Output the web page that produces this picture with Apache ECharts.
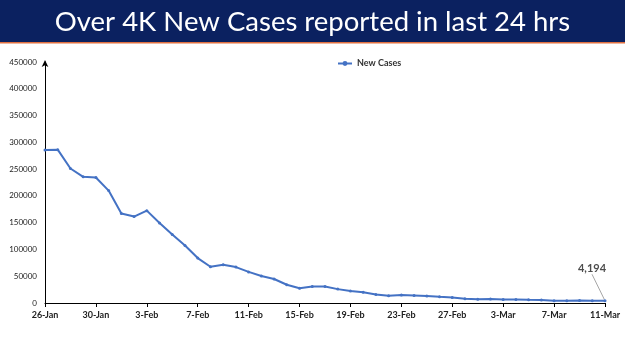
<!DOCTYPE html>
<html lang="en">
<head>
<meta charset="utf-8">
<title>New Cases</title>
<script src="https://cdn.jsdelivr.net/npm/echarts@6/dist/echarts.min.js"></script>
<style>
  html, body { margin: 0; padding: 0; background: #fff; }
  #main { width: 625px; height: 351px; }
</style>
</head>
<body>
<div id="main"></div>
<script>
// dates, one per day
var dates = [
  '26-Jan', '27-Jan', '28-Jan', '29-Jan', '30-Jan', '31-Jan',
  '1-Feb', '2-Feb', '3-Feb', '4-Feb', '5-Feb', '6-Feb', '7-Feb', '8-Feb', '9-Feb', '10-Feb',
  '11-Feb', '12-Feb', '13-Feb', '14-Feb', '15-Feb', '16-Feb', '17-Feb', '18-Feb', '19-Feb', '20-Feb',
  '21-Feb', '22-Feb', '23-Feb', '24-Feb', '25-Feb', '26-Feb', '27-Feb', '28-Feb',
  '1-Mar', '2-Mar', '3-Mar', '4-Mar', '5-Mar', '6-Mar', '7-Mar', '8-Mar', '9-Mar', '10-Mar', '11-Mar'
];
// new cases per day
var newCases = [
  285914, 286384, 251209, 235532, 234281, 209918,
  167059, 161386, 172433, 149394, 127952, 107474, 83876, 67597, 71365, 67084,
  58077, 50407, 44877, 34113, 27409, 30615, 30757, 25920, 22270, 19968,
  16051, 13405, 15102, 14148, 13166, 11499, 10273, 8013,
  6915, 7554, 6561, 6396, 5921, 5476, 4362, 3993, 4575, 4184, 4194
];
var titleText = 'Over 4K New Cases reported in last 24 hrs';

var chart = echarts.init(document.getElementById('main'));

// only the last point gets a label
var seriesData = newCases.map(function (v, i) {
  if (i === newCases.length - 1) {
    return { value: v, label: { show: true } };
  }
  return v;
});

var option = {
  backgroundColor: '#fff',
  animation: false,
  graphic: [
    { type: 'rect', left: 0, top: 0, shape: { width: 625, height: 42 }, style: { fill: '#0B2160' }, z: 0 },
    { type: 'rect', left: 0, top: 42, shape: { width: 625, height: 1.5 }, style: { fill: '#E07040' }, z: 0 }
  ],
  title: {
    text: titleText,
    left: 'center',
    top: 3,
    textStyle: { color: '#fff', fontFamily: 'Lato', fontWeight: 'normal', fontSize: 27.5 }
  },
  legend: {
    data: ['New Cases'],
    left: 332,
    top: 54,
    itemWidth: 14,
    itemHeight: 6,
    itemGap: 2,
    textStyle: { fontFamily: 'Lato', fontSize: 9, fontWeight: 'bold', color: '#333' }
  },
  grid: { left: 45, right: 20, top: 62, bottom: 48 },
  xAxis: {
    type: 'category',
    data: dates,
    boundaryGap: false,
    axisLine: { lineStyle: { color: '#000', width: 1 } },
    axisTick: { interval: 3, length: 4, lineStyle: { color: '#000' } },
    axisLabel: {
      interval: 3,
      margin: 8,
      fontFamily: 'Lato',
      fontSize: 9,
      fontWeight: 'bold',
      color: '#222'
    },
    splitLine: { show: false }
  },
  yAxis: {
    type: 'value',
    min: 0,
    max: 450000,
    interval: 50000,
    axisLine: { show: true, symbol: ['none', 'arrow'], symbolSize: [5, 7], symbolOffset: [0, 2], lineStyle: { color: '#000', width: 1 } },
    axisTick: { show: false },
    axisLabel: { margin: 8, fontFamily: 'Lato', fontSize: 8, color: '#222', formatter: function (v) { return String(v); } },
    splitLine: { show: false }
  },
  series: [{
    name: 'New Cases',
    type: 'line',
    data: seriesData,
    symbol: 'circle',
    symbolSize: 3,
    lineStyle: { color: '#4472C4', width: 2 },
    itemStyle: { color: '#4472C4' },
    label: {
      show: false,
      position: 'top',
      formatter: function (p) { return p.value.toLocaleString('en-US'); },
      fontFamily: 'Lato',
      fontSize: 11,
      fontWeight: 'bold',
      color: '#4D4D4D'
    },
    labelLayout: { dx: -13, dy: -20 },
    labelLine: { show: true, lineStyle: { color: '#A6A6A6', width: 1 } }
  }]
};

chart.setOption(option);
</script>
</body>
</html>
